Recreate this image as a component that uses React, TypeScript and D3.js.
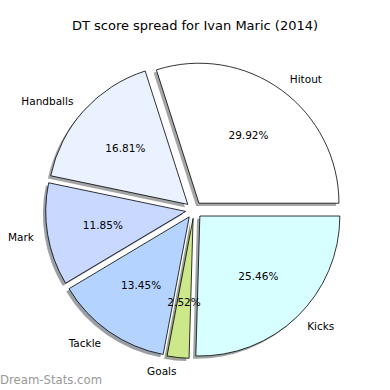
import React from 'react';
import * as d3 from 'd3';

const categories = ['Hitout', 'Handballs', 'Mark', 'Tackle', 'Goals', 'Kicks'];
const values = [29.92, 16.81, 11.85, 13.45, 2.52, 25.46];
const colors = ['#ffffff', '#eaf2ff', '#c8d8ff', '#b4d4ff', '#cce88a', '#d8ffff'];

const W = 390, H = 390;
const cx = 194, cy = 210, R = 140;
const explode = 0.06;

export default function App() {
  const total = d3.sum(values);
  // matplotlib style: start at 3 o'clock, go counter-clockwise
  const angle = d3.scaleLinear().domain([0, total]).range([0, 2 * Math.PI]);
  const cum = d3.cumsum(values);

  const arc = d3.arc<any>().innerRadius(0).outerRadius(R);

  const slices = values.map((v, i) => {
    const a0 = angle(cum[i] - v), a1 = angle(cum[i]);
    const mid = (a0 + a1) / 2;
    const ox = cx + explode * R * Math.cos(mid);
    const oy = cy - explode * R * Math.sin(mid);
    // d3 arc angles: 0 at 12 o'clock, clockwise -> convert
    const path = arc({ startAngle: Math.PI / 2 - a1, endAngle: Math.PI / 2 - a0 }) as string;
    return { i, a0, a1, mid, ox, oy, path };
  });

  const shade = (c: string) => {
    const k = d3.rgb(c);
    return d3.rgb(k.r * 0.3, k.g * 0.3, k.b * 0.3).toString();
  };

  return (
    <svg width={W} height={H} style={{ position: 'absolute', left: 0, top: 0, fontFamily: 'DejaVu Sans' }}>
      <rect width={W} height={H} fill="#fff" />
      <text x={195} y={30} textAnchor="middle" fontSize={13} fill="#000">DT score spread for Ivan Maric (2014)</text>
      {slices.map(s => (
        <path key={'sh' + s.i} d={s.path} transform={`translate(${s.ox - 2.8},${s.oy + 2.8})`}
          fill={shade(colors[s.i])} opacity={0.5} />
      ))}
      {slices.map(s => (
        <path key={'w' + s.i} d={s.path} transform={`translate(${s.ox},${s.oy})`}
          fill={colors[s.i]} stroke="#000" strokeWidth={0.8} />
      ))}
      {slices.map(s => {
        const lx = s.ox + 1.1 * R * Math.cos(s.mid);
        const ly = s.oy - 1.1 * R * Math.sin(s.mid);
        const px = s.ox + 0.6 * R * Math.cos(s.mid);
        const py = s.oy - 0.6 * R * Math.sin(s.mid);
        return (
          <g key={'t' + s.i} fontSize={10.5} fill="#000">
            <text x={lx} y={ly} dy="0.35em" textAnchor={Math.cos(s.mid) > 0 ? 'start' : 'end'}>{categories[s.i]}</text>
            <text x={px} y={py} dy="0.35em" textAnchor="middle">{values[s.i].toFixed(2)}%</text>
          </g>
        );
      })}
      <text x={0} y={384} fontSize={11.7} fill="#999">Dream-Stats.com</text>
    </svg>
  );
}
